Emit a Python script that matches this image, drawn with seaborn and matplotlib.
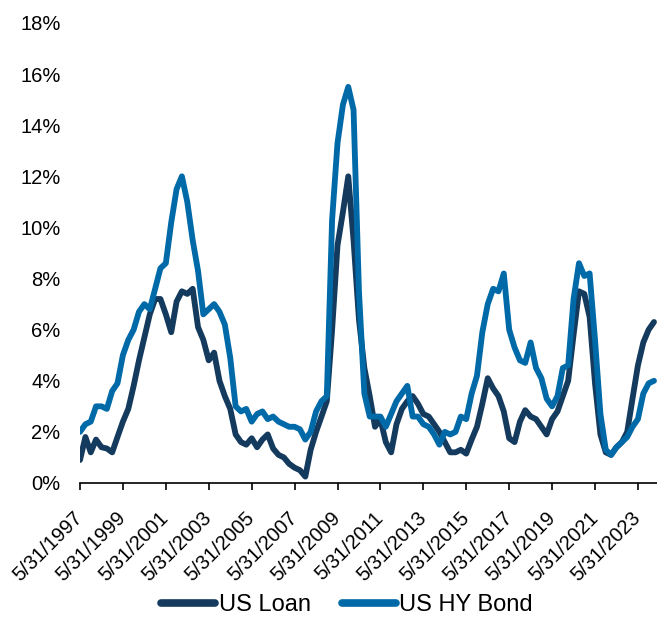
import matplotlib
matplotlib.use("Agg")
import matplotlib.pyplot as plt
import seaborn as sns
import pandas as pd

# quarterly default rates (%), starting 5/31/1997
loan = [0.9, 1.8, 1.2, 1.7, 1.4, 1.35, 1.2, 1.8, 2.4, 2.9,
        3.8, 4.8, 5.7, 6.6, 7.2, 7.2, 6.6, 5.9, 7.1, 7.5,
        7.4, 7.6, 6.1, 5.6, 4.8, 5.1, 4.0, 3.4, 2.9, 1.9,
        1.6, 1.5, 1.75, 1.4, 1.7, 1.9, 1.35, 1.1, 1.0, 0.75,
        0.6, 0.5, 0.25, 1.3, 2.0, 2.6, 3.2, 6.0, 9.3, 10.6,
        12.0, 9.5, 6.4, 4.5, 3.4, 2.2, 2.5, 1.6, 1.2, 2.3,
        2.9, 3.2, 3.4, 3.1, 2.7, 2.6, 2.3, 2.0, 1.6, 1.2,
        1.2, 1.3, 1.15, 1.7, 2.2, 3.1, 4.1, 3.7, 3.4, 2.8,
        1.75, 1.6, 2.4, 2.85, 2.6, 2.5, 2.2, 1.9, 2.5, 2.8,
        3.4, 4.0, 5.8, 7.5, 7.4, 6.5, 3.9, 1.9, 1.2, 1.1,
        1.4, 1.6, 2.0, 3.3, 4.6, 5.5, 6.0, 6.3]
hy_bond = [2.0, 2.3, 2.4, 3.0, 3.0, 2.9, 3.6, 3.9, 5.0, 5.6,
           6.0, 6.7, 7.0, 6.8, 7.6, 8.4, 8.6, 10.2, 11.5, 12.0,
           11.0, 9.5, 8.3, 6.6, 6.8, 7.0, 6.7, 6.2, 4.9, 3.0,
           2.8, 2.9, 2.4, 2.7, 2.8, 2.5, 2.6, 2.4, 2.3, 2.2,
           2.2, 2.1, 1.7, 2.0, 2.8, 3.2, 3.4, 10.3, 13.3, 14.8,
           15.5, 14.6, 7.5, 3.5, 2.6, 2.6, 2.6, 2.2, 2.7, 3.2,
           3.5, 3.8, 2.6, 2.6, 2.3, 2.2, 1.9, 1.5, 2.0, 1.9,
           2.0, 2.6, 2.5, 3.5, 4.2, 5.9, 7.0, 7.6, 7.5, 8.2,
           6.0, 5.3, 4.8, 4.7, 5.5, 4.5, 4.1, 3.3, 3.0, 3.4,
           4.5, 4.6, 7.2, 8.6, 8.1, 8.2, 5.6, 2.7, 1.3, 1.1,
           1.4, 1.6, 1.8, 2.2, 2.5, 3.5, 3.9, 4.0]
series_names = ["US Loan", "US HY Bond"]
colors = ["#143a5e", "#0069a7"]

dates = pd.date_range("1997-05-31", periods=len(loan), freq="3ME")
df = pd.DataFrame({"date": dates, "US Loan": loan, "US HY Bond": hy_bond})
df = df.melt(id_vars="date", var_name="series", value_name="rate")

sns.set_theme(style="white")
plt.rcParams["font.family"] = ["Liberation Sans", "DejaVu Sans"]

fig = plt.figure(figsize=(6.57, 6.29), dpi=100)
ax = fig.add_axes([80 / 657, 1 - 483 / 629, 577 / 657, 460 / 629])

sns.lineplot(data=df, x="date", y="rate", hue="series", hue_order=series_names,
             palette=colors, linewidth=4.2, ax=ax, legend=True)
for ln in ax.lines:
    ln.set_solid_joinstyle("round")
    ln.set_solid_capstyle("round")

ax.set_ylim(0, 18)
ax.set_yticks(range(0, 19, 2))
ax.set_yticklabels([f"{v}%" for v in range(0, 19, 2)])
ax.set_xlim(pd.Timestamp("1997-05-31"), pd.Timestamp("2024-04-20"))
ticks = pd.date_range("1997-05-31", "2023-05-31", freq="24ME")
ax.set_xticks(ticks)
ax.set_xticklabels([f"{d.month}/{d.day}/{d.year}" for d in ticks],
                   rotation=45, ha="right", va="center", rotation_mode="anchor")
ax.set_xlabel("")
ax.set_ylabel("")

for s in ["left", "right", "top"]:
    ax.spines[s].set_visible(False)
ax.spines["bottom"].set_color("#000000")
ax.spines["bottom"].set_linewidth(1.2)
ax.tick_params(axis="x", direction="out", length=5, width=1.2, color="#000000",
               pad=18, labelsize=14.5, labelcolor="#000000", bottom=True)
ax.tick_params(axis="y", length=0, pad=14, labelsize=14.5, labelcolor="#000000")

handles, labels = ax.get_legend_handles_labels()
ax.get_legend().remove()
leg = fig.legend(handles, labels, loc="center", bbox_to_anchor=(347 / 657, 1 - 605 / 629),
                 ncol=2, frameon=False, fontsize=17, handlelength=2.3,
                 handletextpad=0.15, columnspacing=1.3)
for t in leg.get_texts():
    t.set_color("#000000")
for h in leg.get_lines():
    h.set_linewidth(5.5)
    h.set_solid_capstyle("round")

fig.savefig("out.png", dpi=100)
